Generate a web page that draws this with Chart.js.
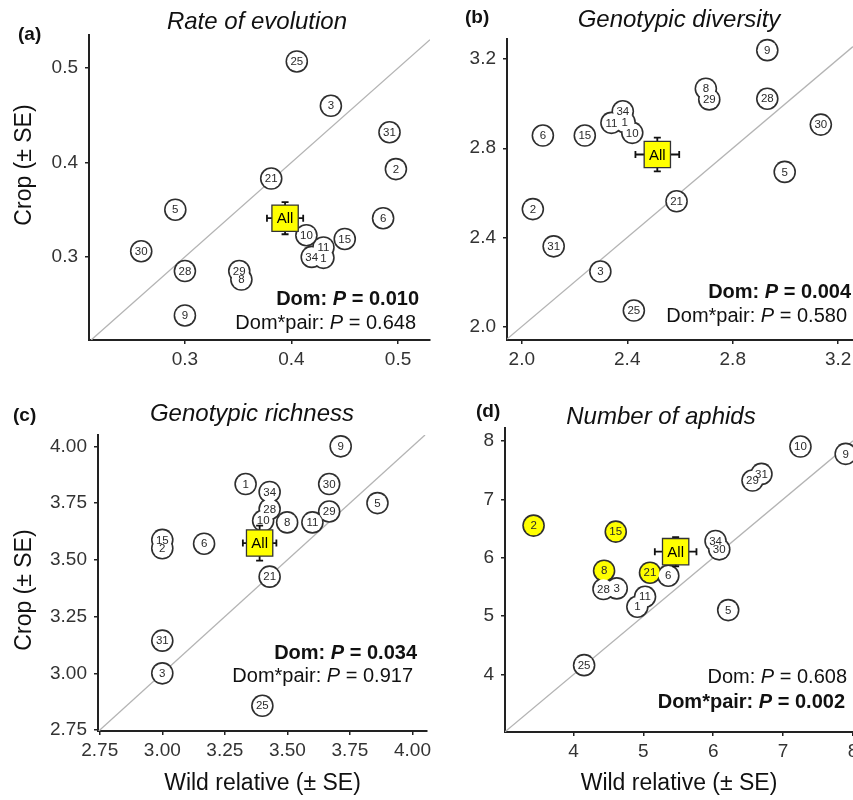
<!DOCTYPE html>
<html>
<head>
<meta charset="utf-8">
<script src="https://cdn.jsdelivr.net/npm/chart.js@4.4.1/dist/chart.umd.min.js"></script>
<style>
html, body { margin: 0; padding: 0; width: 853px; height: 800px; overflow: hidden; background: #fff;
  font-family: "Liberation Sans", Arial, Helvetica, sans-serif; }
canvas { position: absolute; left: 0; top: 0; }
.t { position: absolute; white-space: nowrap; line-height: 1; color: #111; }
.lab { font-weight: bold; font-size: 19px; transform: translateY(-50%); }
.ttl { font-style: italic; font-size: 24px; transform: translate(-50%, -50%); }
.p { font-size: 20px; transform: translate(-100%, -50%); }
.yt { font-size: 23px; transform: translate(-50%, -50%) rotate(-90deg); }
</style>
</head>
<body>
<canvas id="cA" width="900" height="800"></canvas>
<canvas id="cB" width="900" height="800"></canvas>
<canvas id="cC" width="900" height="800"></canvas>
<canvas id="cD" width="900" height="800"></canvas>

<div class="t lab" style="left:18px;top:33px">(a)</div>
<div class="t ttl" style="left:257px;top:21px">Rate of evolution</div>
<div class="t yt" style="left:23px;top:165px">Crop (± SE)</div>
<div class="t p" style="left:419px;top:298px"><b>Dom: <i>P</i> = 0.010</b></div>
<div class="t p" style="left:416px;top:322px">Dom*pair: <i>P</i> = 0.648</div>

<div class="t lab" style="left:465px;top:16px">(b)</div>
<div class="t ttl" style="left:679px;top:19px">Genotypic diversity</div>
<div class="t p" style="left:851px;top:291px"><b>Dom: <i>P</i> = 0.004</b></div>
<div class="t p" style="left:847px;top:315px">Dom*pair: <i>P</i> = 0.580</div>

<div class="t lab" style="left:13px;top:414px">(c)</div>
<div class="t ttl" style="left:252px;top:413px">Genotypic richness</div>
<div class="t yt" style="left:23px;top:590px">Crop (± SE)</div>
<div class="t p" style="left:417px;top:652px"><b>Dom: <i>P</i> = 0.034</b></div>
<div class="t p" style="left:413px;top:675px">Dom*pair: <i>P</i> = 0.917</div>

<div class="t lab" style="left:476px;top:410px">(d)</div>
<div class="t ttl" style="left:661px;top:416px">Number of aphids</div>
<div class="t p" style="left:847px;top:676px">Dom: <i>P</i> = 0.608</div>
<div class="t p" style="left:845px;top:701px"><b>Dom*pair: <i>P</i> = 0.002</b></div>

<script>
// (a) Rate of evolution
const idsA  = ['25', '3', '31', '2', '21', '5', '6', '10', '15', '11', '34', '1', '30', '28', '29', '8', '9'];
const wildA = [0.405, 0.437, 0.492, 0.498, 0.381, 0.291, 0.486, 0.414, 0.450, 0.430, 0.419, 0.430, 0.259, 0.300, 0.351, 0.353, 0.300];
const cropA = [0.507, 0.460, 0.432, 0.393, 0.383, 0.350, 0.341, 0.323, 0.319, 0.310, 0.300, 0.299, 0.306, 0.285, 0.285, 0.276, 0.238];
const ticksA = [0.3, 0.4, 0.5];
const xRangeA = [0.21, 0.53];
const yRangeA = [0.212, 0.535];

// (b) Genotypic diversity
const idsB  = ['9', '8', '29', '28', '30', '34', '11', '1', '10', '6', '15', '5', '21', '2', '31', '3', '25'];
const wildB = [2.931, 2.698, 2.711, 2.931, 3.134, 2.383, 2.340, 2.390, 2.419, 2.080, 2.239, 2.997, 2.587, 2.042, 2.121, 2.298, 2.425];
const cropB = [3.240, 3.067, 3.019, 3.022, 2.906, 2.966, 2.914, 2.917, 2.869, 2.857, 2.857, 2.694, 2.562, 2.527, 2.360, 2.247, 2.072];
const ticksB = [2.0, 2.4, 2.8, 3.2];
const xRangeB = [1.944, 3.256];
const yRangeB = [1.94, 3.29];

// (c) Genotypic richness
const idsC  = ['9', '1', '30', '34', '5', '28', '29', '10', '8', '11', '15', '2', '6', '21', '31', '3', '25'];
const wildC = [3.713, 3.333, 3.667, 3.429, 3.860, 3.429, 3.667, 3.403, 3.499, 3.600, 3.000, 3.000, 3.167, 3.429, 3.000, 3.000, 3.400];
const cropC = [4.000, 3.834, 3.834, 3.799, 3.750, 3.724, 3.713, 3.672, 3.665, 3.665, 3.588, 3.551, 3.571, 3.426, 3.144, 3.000, 2.857];
const ticksC = [2.75, 3.00, 3.25, 3.50, 3.75, 4.00];
const xRangeC = [2.743, 4.058];
const yRangeC = [2.746, 4.05];

// (d) Number of aphids
const idsD  = ['10', '9', '31', '29', '2', '15', '34', '30', '8', '21', '6', '28', '3', '11', '1', '5', '25'];
const wildD = [7.248, 7.895, 6.690, 6.562, 3.429, 4.605, 6.033, 6.086, 4.438, 5.095, 5.357, 4.429, 4.619, 5.024, 4.914, 6.214, 4.152];
const cropD = [7.903, 7.777, 7.434, 7.320, 6.549, 6.446, 6.286, 6.143, 5.777, 5.743, 5.691, 5.463, 5.474, 5.331, 5.160, 5.103, 4.160];
const yellowD = ['2', '15', '8', '21'];
const xTicksD = [4, 5, 6, 7, 8];
const yTicksD = [4, 5, 6, 7, 8];
const xRangeD = [3.02, 8.0];
const yRangeD = [3.016, 8.22];

// pooled "All" means (+- SE), panels a..d
const allWild   = [0.394, 2.514, 3.389, 5.462];
const allCrop   = [0.341, 2.772, 3.574, 6.103];
const allSeWild = [0.017, 0.083, 0.067, 0.298];
const allSeCrop = [0.017, 0.076, 0.077, 0.250];

Chart.defaults.font.family = '"Liberation Sans", Arial, Helvetica, sans-serif';
Chart.defaults.color = '#333';

// error bars behind the All square, numbers on top of the circles
const marks = {
  id: 'marks',
  beforeDatasetDraw(chart, args, opts) {
    if (args.index !== 3) return;
    const ctx = chart.ctx, xs = chart.scales.x, ys = chart.scales.y;
    const cx = xs.getPixelForValue(opts.x), cy = ys.getPixelForValue(opts.y);
    const x0 = xs.getPixelForValue(opts.x - opts.ex), x1 = xs.getPixelForValue(opts.x + opts.ex);
    const y0 = ys.getPixelForValue(opts.y - opts.ey), y1 = ys.getPixelForValue(opts.y + opts.ey);
    ctx.save();
    ctx.strokeStyle = '#111';
    ctx.lineWidth = 1.8;
    ctx.beginPath();
    ctx.moveTo(x0, cy); ctx.lineTo(x1, cy);
    ctx.moveTo(cx, y0); ctx.lineTo(cx, y1);
    ctx.moveTo(x0, cy - 3.5); ctx.lineTo(x0, cy + 3.5);
    ctx.moveTo(x1, cy - 3.5); ctx.lineTo(x1, cy + 3.5);
    ctx.moveTo(cx - 3.5, y0); ctx.lineTo(cx + 3.5, y0);
    ctx.moveTo(cx - 3.5, y1); ctx.lineTo(cx + 3.5, y1);
    ctx.stroke();
    ctx.restore();
  },
  afterDatasetsDraw(chart, args, opts) {
    const ctx = chart.ctx;
    ctx.save();
    ctx.textAlign = 'center';
    ctx.textBaseline = 'middle';
    ctx.fillStyle = '#2a2a2a';
    ctx.font = '11.5px "Liberation Sans", Arial, sans-serif';
    chart.getDatasetMeta(2).data.forEach((pt, i) => {
      ctx.fillText(opts.ids[i], pt.x, pt.y + 0.5);
    });
    const a = chart.getDatasetMeta(3).data[0];
    ctx.fillStyle = '#000';
    ctx.font = '15px "Liberation Sans", Arial, sans-serif';
    ctx.fillText('All', a.x, a.y + 1);
    ctx.restore();
  }
};

function axis(ticks, range, dec, size, title, isX) {
  const s = {
    type: 'linear',
    min: range[0],
    max: range[1],
    afterBuildTicks: sc => { sc.ticks = ticks.map(v => ({ value: v })); },
    ticks: {
      callback: v => Number(v).toFixed(dec),
      font: { size: 19 },
      color: '#333',
      padding: isX ? 4 : 7,
      maxRotation: 0,
      autoSkip: false
    },
    grid: { drawOnChartArea: false, drawTicks: true, tickLength: 4, color: '#222', lineWidth: 1.5 },
    border: { display: true, color: '#222', width: 2 },
    title: {
      display: !!title,
      text: title,
      font: { size: 23 },
      color: '#111',
      padding: { top: 0, bottom: 3 }
    }
  };
  if (isX) s.afterFit = sc => { sc.height = size; };
  else s.afterFit = sc => { sc.width = size; };
  return s;
}

function makePanel(id, p) {
  const pts = p.wild.map((w, i) => ({ x: w, y: p.crop[i] }));
  const lo = Math.max(p.xRange[0], p.yRange[0]);
  const hi = Math.min(p.xRange[1], p.yRange[1]);
  const fills = p.ids.map(n => (p.yellow && p.yellow.includes(n)) ? '#ffff00' : '#ffffff');
  const k = p.k;
  new Chart(document.getElementById(id).getContext('2d'), {
    type: 'scatter',
    data: {
      datasets: [
        { data: [{ x: lo, y: lo }, { x: hi, y: hi }], showLine: true, pointRadius: 0,
          borderColor: '#b4b4b4', borderWidth: 1.3, order: 10 },
        { data: pts, pointRadius: 11.3, pointBackgroundColor: '#2e2e2e', pointBorderWidth: 0, order: 5, clip: false },
        { data: pts, pointRadius: 9.7, pointBackgroundColor: fills, pointBorderWidth: 0, order: 4, clip: false },
        { data: [{ x: allWild[k], y: allCrop[k] }], pointStyle: 'rect', pointRadius: 18.6,
          pointBackgroundColor: '#ffff00', pointBorderColor: '#333', pointBorderWidth: 1.3, order: 1, clip: false }
      ]
    },
    options: {
      responsive: false,
      animation: false,
      devicePixelRatio: 1,
      events: [],
      layout: {
        padding: { left: p.box.l - p.yw, right: 900 - p.box.r, top: p.box.t, bottom: 800 - p.box.b - p.xh }
      },
      scales: {
        x: axis(p.xTicks, p.xRange, p.dec, p.xh, p.xTitle, true),
        y: axis(p.yTicks, p.yRange, p.dec, p.yw, '', false)
      },
      plugins: {
        legend: { display: false },
        tooltip: { enabled: false },
        marks: { ids: p.ids, x: allWild[k], y: allCrop[k], ex: allSeWild[k], ey: allSeCrop[k] }
      }
    },
    plugins: [marks]
  });
}

makePanel('cA', { k: 0, ids: idsA, wild: wildA, crop: cropA, xTicks: ticksA, yTicks: ticksA,
  xRange: xRangeA, yRange: yRangeA, dec: 1, box: { l: 89, r: 430, t: 35, b: 340 }, yw: 84, xh: 40, xTitle: '' });
makePanel('cB', { k: 1, ids: idsB, wild: wildB, crop: cropB, xTicks: ticksB, yTicks: ticksB,
  xRange: xRangeB, yRange: yRangeB, dec: 1, box: { l: 507, r: 853, t: 39, b: 340 }, yw: 50, xh: 40, xTitle: '' });
makePanel('cC', { k: 2, ids: idsC, wild: wildC, crop: cropC, xTicks: ticksC, yTicks: ticksC,
  xRange: xRangeC, yRange: yRangeC, dec: 2, box: { l: 98, r: 427, t: 435, b: 731 }, yw: 93, xh: 69,
  xTitle: 'Wild relative (± SE)' });
makePanel('cD', { k: 3, ids: idsD, wild: wildD, crop: cropD, xTicks: xTicksD, yTicks: yTicksD, yellow: yellowD,
  xRange: xRangeD, yRange: yRangeD, dec: 0, box: { l: 505, r: 853, t: 428, b: 732 }, yw: 50, xh: 68,
  xTitle: 'Wild relative (± SE)' });
</script>
</body>
</html>
